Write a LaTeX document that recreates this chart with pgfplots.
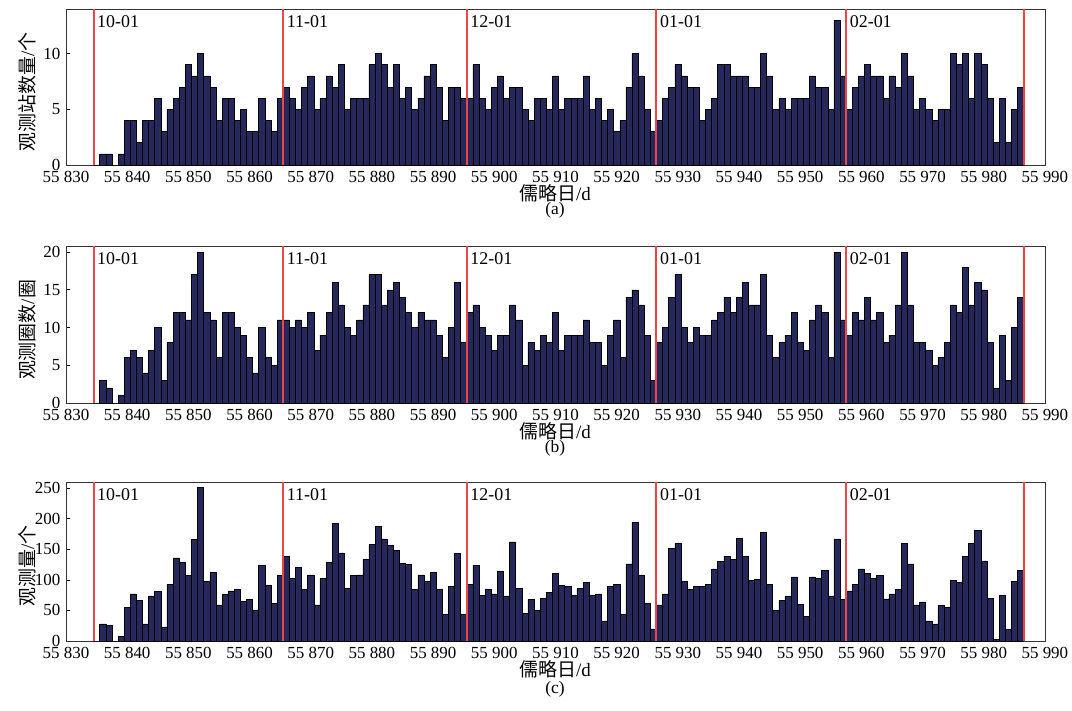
\documentclass[border=0pt]{standalone}
\usepackage{pgfplots}
\pgfplotsset{compat=1.18}
\usepackage{pgfplotstable}
\usepackage{fontspec}
\setmainfont{Liberation Serif}
\newfontfamily\cjk{Noto Sans CJK SC}
\definecolor{barc}{RGB}{38,40,92}
\definecolor{linec}{RGB}{236,70,70}

\pgfplotstableread{
d v
55835 0
55836 1
55837 1
55838 0
55839 1
55840 4
55841 4
55842 2
55843 4
55844 4
55845 6
55846 3
55847 5
55848 6
55849 7
55850 9
55851 8
55852 10
55853 8
55854 7
55855 4
55856 6
55857 6
55858 4
55859 5
55860 3
55861 3
55862 6
55863 4
55864 3
55865 6
55866 7
55867 6
55868 5
55869 7
55870 8
55871 5
55872 6
55873 8
55874 7
55875 9
55876 5
55877 6
55878 6
55879 6
55880 9
55881 10
55882 9
55883 7
55884 9
55885 6
55886 7
55887 5
55888 6
55889 8
55890 9
55891 7
55892 4
55893 7
55894 7
55895 6
55896 6
55897 9
55898 6
55899 5
55900 7
55901 8
55902 6
55903 7
55904 7
55905 5
55906 4
55907 6
55908 6
55909 5
55910 8
55911 5
55912 6
55913 6
55914 6
55915 8
55916 5
55917 6
55918 4
55919 5
55920 3
55921 4
55922 7
55923 10
55924 8
55925 5
55926 3
55927 4
55928 6
55929 7
55930 9
55931 8
55932 7
55933 7
55934 4
55935 5
55936 6
55937 9
55938 9
55939 8
55940 8
55941 8
55942 7
55943 7
55944 10
55945 8
55946 5
55947 6
55948 5
55949 6
55950 6
55951 6
55952 8
55953 7
55954 7
55955 5
55956 13
55957 8
55958 5
55959 7
55960 8
55961 9
55962 8
55963 8
55964 6
55965 8
55966 7
55967 10
55968 8
55969 5
55970 6
55971 5
55972 4
55973 5
55974 5
55975 10
55976 9
55977 10
55978 6
55979 10
55980 9
55981 6
55982 2
55983 6
55984 2
55985 5
55986 7
}\tabA

\pgfplotstableread{
d v
55835 0
55836 3
55837 2
55838 0
55839 1
55840 6
55841 7
55842 6
55843 4
55844 7
55845 10
55846 3
55847 8
55848 12
55849 12
55850 11
55851 17
55852 20
55853 12
55854 11
55855 6
55856 12
55857 12
55858 10
55859 9
55860 6
55861 4
55862 10
55863 6
55864 5
55865 11
55866 11
55867 10
55868 11
55869 10
55870 12
55871 7
55872 9
55873 12
55874 16
55875 13
55876 10
55877 9
55878 11
55879 13
55880 17
55881 17
55882 13
55883 15
55884 16
55885 14
55886 12
55887 10
55888 12
55889 11
55890 11
55891 9
55892 6
55893 10
55894 16
55895 8
55896 12
55897 13
55898 10
55899 9
55900 7
55901 9
55902 9
55903 13
55904 11
55905 5
55906 8
55907 7
55908 9
55909 8
55910 12
55911 7
55912 9
55913 9
55914 9
55915 11
55916 8
55917 8
55918 5
55919 9
55920 11
55921 6
55922 14
55923 15
55924 13
55925 9
55926 3
55927 8
55928 10
55929 14
55930 17
55931 10
55932 8
55933 10
55934 9
55935 9
55936 11
55937 12
55938 14
55939 12
55940 14
55941 16
55942 13
55943 13
55944 17
55945 9
55946 6
55947 8
55948 9
55949 12
55950 8
55951 7
55952 11
55953 13
55954 12
55955 6
55956 20
55957 11
55958 9
55959 12
55960 11
55961 14
55962 11
55963 12
55964 8
55965 9
55966 13
55967 20
55968 13
55969 8
55970 8
55971 7
55972 5
55973 6
55974 8
55975 13
55976 12
55977 18
55978 13
55979 16
55980 15
55981 8
55982 2
55983 9
55984 3
55985 10
55986 14
}\tabB

\pgfplotstableread{
d v
55835 0
55836 28
55837 26
55838 0
55839 8
55840 55
55841 77
55842 66
55843 28
55844 74
55845 81
55846 23
55847 92
55848 136
55849 129
55850 107
55851 166
55852 251
55853 97
55854 112
55855 59
55856 76
55857 82
55858 84
55859 65
55860 68
55861 50
55862 124
55863 91
55864 62
55865 107
55866 139
55867 103
55868 120
55869 84
55870 108
55871 59
55872 102
55873 129
55874 192
55875 144
55876 86
55877 107
55878 108
55879 134
55880 158
55881 188
55882 167
55883 156
55884 148
55885 127
55886 125
55887 84
55888 108
55889 97
55890 112
55891 84
55892 43
55893 89
55894 143
55895 43
55896 93
55897 124
55898 75
55899 84
55900 77
55901 114
55902 74
55903 162
55904 86
55905 45
55906 68
55907 50
55908 70
55909 80
55910 110
55911 91
55912 89
55913 75
55914 86
55915 96
55916 75
55917 77
55918 33
55919 89
55920 92
55921 44
55922 126
55923 194
55924 108
55925 62
55926 20
55927 59
55928 77
55929 152
55930 160
55931 97
55932 84
55933 89
55934 89
55935 92
55936 118
55937 130
55938 139
55939 134
55940 168
55941 138
55942 99
55943 101
55944 178
55945 92
55946 50
55947 66
55948 74
55949 105
55950 60
55951 40
55952 105
55953 103
55954 115
55955 74
55956 167
55957 68
55958 82
55959 92
55960 118
55961 111
55962 103
55963 107
55964 69
55965 77
55966 84
55967 160
55968 126
55969 59
55970 64
55971 33
55972 28
55973 58
55974 56
55975 99
55976 96
55977 139
55978 160
55979 181
55980 131
55981 70
55982 3
55983 75
55984 19
55985 97
55986 115
}\tabC

\pgfplotsset{
  panel/.style={
    scale only axis, width=979bp, anchor=south west,
    xmin=55830, xmax=55990, ymin=0,
    scaled x ticks=false,
    xtick={55830,55840,...,55990},
    xticklabels={55 830,55 840,55 850,55 860,55 870,55 880,55 890,55 900,55 910,55 920,55 930,55 940,55 950,55 960,55 970,55 980,55 990},
    tick align=inside, xtick pos=lower, ytick pos=left,
    major tick length=4bp,
    tick style={black, line width=0.6bp},
    axis line style={line width=0.7bp, black!80},
    ticklabel style={font=\fontsize{17}{20}\selectfont},
    xticklabel style={inner sep=0pt, yshift=-6.5bp},
    yticklabel style={inner sep=0pt, xshift=-5.5bp},
    /pgf/number format/assume math mode=true,
    clip=false,
  },
  bars/.style={ybar, bar width=1, fill=barc, draw=black, line width=0.5bp},
  redl/.style={draw=linec, line width=2bp},
}
\tikzset{mlab/.style={anchor=north west, inner sep=0pt, font=\fontsize{18}{20}\selectfont, xshift=3.5bp, yshift=-6bp}}

\begin{document}
\begin{tikzpicture}
\useasboundingbox (0,0) rectangle (1072bp,-711bp);

% panel a
\begin{axis}[panel, at={(66bp,-165bp)}, height=156bp, ymax=14, ytick={0,5,10}]
\addplot[bars] table[x=d,y=v] {\tabA};
\pgfplotsinvokeforeach{55834.5,55865.5,55895.5,55926.5,55957.5,55986.5}{
  \addplot[redl] coordinates {(#1,0) (#1,14)};
}
\node[mlab] at (axis cs:55834.5,14) {10-01};
\node[mlab] at (axis cs:55865.5,14) {11-01};
\node[mlab] at (axis cs:55895.5,14) {12-01};
\node[mlab] at (axis cs:55926.5,14) {01-01};
\node[mlab] at (axis cs:55957.5,14) {02-01};
\end{axis}

% panel b
\begin{axis}[panel, at={(66bp,-403bp)}, height=157bp, ymax=20.8, ytick={0,5,10,15,20}]
\addplot[bars] table[x=d,y=v] {\tabB};
\pgfplotsinvokeforeach{55834.5,55865.5,55895.5,55926.5,55957.5,55986.5}{
  \addplot[redl] coordinates {(#1,0) (#1,20.8)};
}
\node[mlab] at (axis cs:55834.5,20.8) {10-01};
\node[mlab] at (axis cs:55865.5,20.8) {11-01};
\node[mlab] at (axis cs:55895.5,20.8) {12-01};
\node[mlab] at (axis cs:55926.5,20.8) {01-01};
\node[mlab] at (axis cs:55957.5,20.8) {02-01};
\end{axis}

% panel c
\begin{axis}[panel, at={(66bp,-641bp)}, height=159bp, ymax=260, ytick={0,50,100,150,200,250}]
\addplot[bars] table[x=d,y=v] {\tabC};
\pgfplotsinvokeforeach{55834.5,55865.5,55895.5,55926.5,55957.5,55986.5}{
  \addplot[redl] coordinates {(#1,0) (#1,260)};
}
\node[mlab] at (axis cs:55834.5,260) {10-01};
\node[mlab] at (axis cs:55865.5,260) {11-01};
\node[mlab] at (axis cs:55895.5,260) {12-01};
\node[mlab] at (axis cs:55926.5,260) {01-01};
\node[mlab] at (axis cs:55957.5,260) {02-01};
\end{axis}

% axis labels and captions
\begin{scope}[every node/.style={font=\fontsize{19}{22}\selectfont, inner sep=0pt}]
\node[rotate=90] at (27bp,-92bp) {{\cjk 观测站数量}/{\cjk 个}};
\node[rotate=90] at (27bp,-330bp) {{\cjk 观测圈数}/{\cjk 圈}};
\node[rotate=90] at (27bp,-566bp) {{\cjk 观测量}/{\cjk 个}};
\node at (555bp,-193bp) {{\cjk 儒略日}/d};
\node at (555bp,-431bp) {{\cjk 儒略日}/d};
\node at (555bp,-669bp) {{\cjk 儒略日}/d};
\end{scope}
\begin{scope}[every node/.style={font=\fontsize{17.5}{20}\selectfont, inner sep=0pt}]
\node at (555bp,-210bp) {(a)};
\node at (555bp,-448bp) {(b)};
\node at (555bp,-689bp) {(c)};
\end{scope}
\end{tikzpicture}
\end{document}
